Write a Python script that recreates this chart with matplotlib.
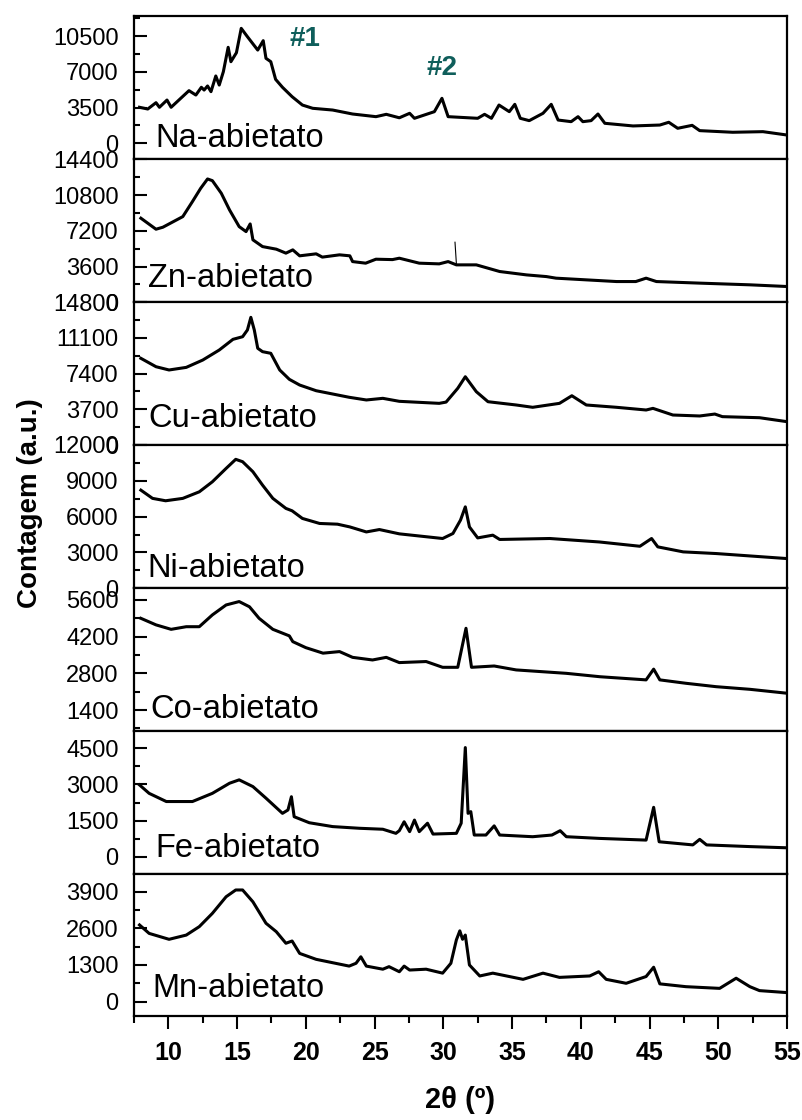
import matplotlib
matplotlib.use("Agg")
import matplotlib.pyplot as plt
from matplotlib.ticker import MultipleLocator, AutoMinorLocator

plt.rcParams['font.family'] = ['Liberation Sans', 'DejaVu Sans']

# -----------------------------
# XRD patterns (2theta, counts)
# -----------------------------
na_x = [7.9, 8.5, 9.1, 9.35, 9.9, 10.2, 10.9, 11.5, 12.0, 12.4, 12.6, 12.85, 13.1, 13.45,
        13.7, 14.0, 14.35, 14.55, 14.95, 15.3, 15.75, 16.5, 16.9, 17.1, 17.45, 17.8, 18.3,
        19.0, 19.75, 20.5, 21.95, 23.4, 25.1, 25.85, 26.8, 27.55, 27.9, 29.35, 29.9, 30.35,
        32.5, 33.0, 33.5, 34.05, 34.8, 35.2, 35.6, 36.25, 37.25, 37.85, 38.35, 39.3, 39.8,
        40.15, 40.75, 41.25, 41.75, 43.8, 45.75, 46.4, 47.05, 48.1, 48.65, 51.05, 53.25, 55.0]
na_y = [3530, 3360, 3980, 3530, 4240, 3530, 4410, 5160, 4730, 5490, 5220, 5620, 5060, 6600,
        5710, 7020, 9410, 8000, 8880, 11270, 10450, 9140, 10060, 8330, 8000, 6270, 5490,
        4570, 3750, 3430, 3260, 2870, 2610, 2840, 2500, 2940, 2450, 3100, 4410, 2610,
        2450, 2840, 2450, 3750, 3100, 3820, 2450, 2220, 2940, 3820, 2280, 2120, 2610,
        2120, 2220, 2870, 1960, 1700, 1790, 2060, 1470, 1760, 1240, 1080, 1140, 810]

zn_x = [8.0, 9.1, 9.6, 11.05, 11.75, 12.35, 12.85, 13.2, 13.85, 14.45, 15.15, 15.65, 15.95,
        16.15, 16.85, 17.85, 18.55, 19.05, 19.55, 20.75, 21.2, 22.45, 23.2, 23.4, 24.35,
        25.1, 26.3, 26.8, 28.25, 29.7, 30.35, 30.95, 32.4, 34.1, 36.05, 37.5, 38.2, 40.4,
        42.6, 44.0, 44.75, 45.5, 48.65, 52.3, 55.0]
zn_y = [8470, 7360, 7560, 8630, 10140, 11480, 12420, 12250, 10980, 9300, 7620, 7120, 7890,
        6290, 5610, 5350, 4950, 5280, 4680, 4880, 4550, 4780, 4680, 4100, 3940,
        4340, 4300, 4440, 3940, 3870, 4100, 3770, 3770, 3100, 2760, 2590, 2430, 2260,
        2090, 2090, 2430, 2090, 1930, 1760, 1590]
zn_spike_x = [30.85, 30.95]
zn_spike_y = [6050, 3900]

cu_x = [8.0, 9.1, 10.05, 11.3, 12.5, 13.7, 14.7, 15.4, 15.75, 16.0, 16.25, 16.5, 16.85,
        17.45, 18.1, 18.8, 19.55, 20.75, 21.95, 23.15, 24.4, 25.6, 26.8, 29.7, 30.2, 31.05,
        31.6, 32.4, 33.25, 35.3, 36.5, 38.45, 39.35, 40.4, 42.6, 44.75, 45.25, 46.7, 48.65,
        49.75, 50.3, 53.0, 55.0]
cu_y = [8990, 8120, 7780, 8050, 8810, 9850, 10960, 11230, 11930, 13240, 11930, 10030, 9680,
        9510, 7780, 6810, 6220, 5630, 5290, 4950, 4670, 4840, 4530, 4320, 4450, 5880,
        7080, 5530, 4490, 4150, 3910, 4320, 5110, 4150, 3910, 3630, 3800, 3110, 3010,
        3210, 2940, 2830, 2420]

ni_x = [8.0, 8.85, 9.8, 11.05, 12.25, 13.2, 14.2, 14.9, 15.4, 16.15, 16.85, 17.6, 18.55,
        19.0, 19.75, 21.0, 22.3, 23.2, 24.4, 25.35, 26.8, 29.95, 30.7, 31.25, 31.6, 31.9,
        32.5, 33.6, 34.1, 37.75, 41.35, 44.3, 45.15, 45.6, 47.45, 49.85, 52.3, 55.0]
ni_y = [8220, 7530, 7330, 7530, 8080, 8920, 10040, 10800, 10600, 9760, 8640, 7530, 6690,
        6490, 5850, 5430, 5370, 5140, 4720, 4920, 4560, 4170, 4590, 5710, 6820, 5140,
        4220, 4450, 4090, 4170, 3880, 3520, 4170, 3470, 3050, 2910, 2710, 2490]

co_x = [8.0, 9.1, 10.2, 11.3, 12.25, 13.2, 14.2, 15.15, 15.9, 16.6, 17.6, 18.8, 19.05,
        20.0, 21.25, 22.45, 23.4, 24.85, 25.85, 26.8, 28.75, 29.95, 31.05, 31.65, 32.05,
        33.7, 35.3, 38.95, 41.4, 44.75, 45.3, 45.75, 47.65, 49.85, 52.3, 55.0]
co_y = [4900, 4650, 4480, 4580, 4580, 5030, 5410, 5540, 5340, 4900, 4480, 4230, 4010,
        3780, 3570, 3630, 3410, 3310, 3410, 3210, 3250, 3030, 3030, 4520, 3030,
        3080, 2930, 2800, 2670, 2550, 2960, 2550, 2420, 2290, 2190, 2040]

fe_x = [7.9, 8.6, 9.85, 11.75, 13.2, 14.45, 15.15, 16.15, 17.1, 18.3, 18.7, 18.95, 19.15,
        20.25, 21.95, 23.9, 25.6, 26.55, 26.8, 27.15, 27.55, 27.9, 28.25, 28.85, 29.25,
        30.95, 31.3, 31.6, 31.8, 32.0, 32.25, 33.1, 33.7, 34.1, 36.5, 37.9, 38.5, 38.95,
        41.35, 44.75, 45.3, 45.7, 48.15, 48.65, 49.15, 52.3, 55.0]
fe_y = [2980, 2630, 2290, 2290, 2630, 3050, 3190, 2910, 2430, 1800, 1940, 2490, 1660,
        1410, 1250, 1180, 1140, 970, 1080, 1450, 1040, 1520, 1040, 1390, 940,
        970, 1390, 4530, 1800, 1870, 900, 900, 1280, 900, 830, 900, 1080, 830,
        760, 690, 2050, 620, 490, 720, 490, 420, 370]

mn_x = [7.9, 8.6, 10.05, 11.3, 12.25, 13.2, 14.2, 14.9, 15.4, 16.15, 17.1, 17.85, 18.55,
        19.0, 19.55, 20.75, 21.95, 23.15, 23.65, 24.0, 24.4, 25.6, 26.05, 26.8, 27.15,
        27.55, 28.75, 29.95, 30.55, 30.95, 31.2, 31.4, 31.6, 31.9, 32.65, 33.6, 35.8,
        37.25, 38.45, 40.65, 41.3, 41.85, 43.3, 44.75, 45.3, 45.75, 47.65, 50.1, 51.3,
        52.3, 53.0, 55.0]
mn_y = [2720, 2420, 2210, 2360, 2660, 3130, 3720, 3960, 3960, 3540, 2780, 2480, 2070,
        2150, 1710, 1500, 1380, 1260, 1360, 1590, 1260, 1150, 1240, 1060, 1260,
        1120, 1150, 1010, 1360, 2190, 2510, 2210, 2360, 1300, 910, 1010, 790,
        1010, 860, 910, 1060, 790, 650, 890, 1220, 630, 530, 470, 830,
        530, 390, 320]

labels = ["Na-abietato", "Zn-abietato", "Cu-abietato", "Ni-abietato",
          "Co-abietato", "Fe-abietato", "Mn-abietato"]
series = [(na_x, na_y), (zn_x, zn_y), (cu_x, cu_y), (ni_x, ni_y),
          (co_x, co_y), (fe_x, fe_y), (mn_x, mn_y)]
x_ticks = [10, 15, 20, 25, 30, 35, 40, 45, 50, 55]

# -----------------------------
# Layout (pixels on an 803x1120 canvas)
# -----------------------------
W, H = 803, 1120
left_px, right_px = 134, 787
edges_px = [16, 159.3, 302.3, 445, 588.3, 730.7, 874.3, 1016]
ylims = [(-1570, 12480), (0, 14400), (0, 14800), (0, 12000),
         (610, 6046), (-730, 5230), (-510, 4516)]
ysteps = [3500, 3600, 3700, 3000, 1400, 1500, 1300]
label_pos = [(155, 146.7), (148, 287), (148, 426.7), (147, 576.7),
             (150, 718), (155, 857), (152, 996.7)]

fig = plt.figure(figsize=(W / 100, H / 100), dpi=100)

axes = []
for i, (xs, ys) in enumerate(series):
    top, bot = edges_px[i], edges_px[i + 1]
    ax = fig.add_axes([left_px / W, 1 - bot / H, (right_px - left_px) / W, (bot - top) / H])
    ax.plot(xs, ys, color='black', linewidth=2.2, solid_joinstyle='round')
    ax.set_xlim(7.5, 55)
    ax.set_ylim(*ylims[i])
    ax.yaxis.set_major_locator(MultipleLocator(ysteps[i]))
    ax.yaxis.set_minor_locator(AutoMinorLocator(2))
    ax.tick_params(axis='y', which='major', direction='in', length=9, width=1.5,
                   pad=11, labelsize=17)
    ax.tick_params(axis='y', which='minor', direction='in', length=4, width=1.5)
    for sp in ax.spines.values():
        sp.set_linewidth(1.6)
    if i < len(series) - 1:
        ax.tick_params(axis='x', which='both', bottom=False, labelbottom=False)
    else:
        ax.set_xticks(x_ticks)
        ax.xaxis.set_minor_locator(AutoMinorLocator(2))
        ax.tick_params(axis='x', which='major', direction='out', length=9, width=1.5,
                       pad=9, labelsize=18)
        ax.tick_params(axis='x', which='minor', direction='out', length=5, width=1.5)
        for t in ax.get_xticklabels():
            t.set_fontweight('bold')
    lx, ly = label_pos[i]
    fig.text(lx / W, 1 - ly / H, labels[i], fontsize=23.5, va='baseline', ha='left')
    axes.append(ax)

# thin spike on the Zn pattern
axes[1].plot(zn_spike_x, zn_spike_y, color='black', linewidth=0.8)

# reflection markers on the Na pattern
axes[0].text(19.94, 10220, "#1", color='#0f5e5b', fontsize=20, fontweight='bold',
             ha='center', va='center')
axes[0].text(29.9, 7380, "#2", color='#0f5e5b', fontsize=20, fontweight='bold',
             ha='center', va='center')

fig.text(30 / W, 1 - 503 / H, "Contagem (a.u.)", rotation=90, fontsize=20,
         fontweight='bold', ha='center', va='center')
fig.text(460 / W, 1 - 1100 / H, "2θ (º)", fontsize=21, fontweight='bold',
         ha='center', va='center')

fig.savefig("out.png", dpi=100)
